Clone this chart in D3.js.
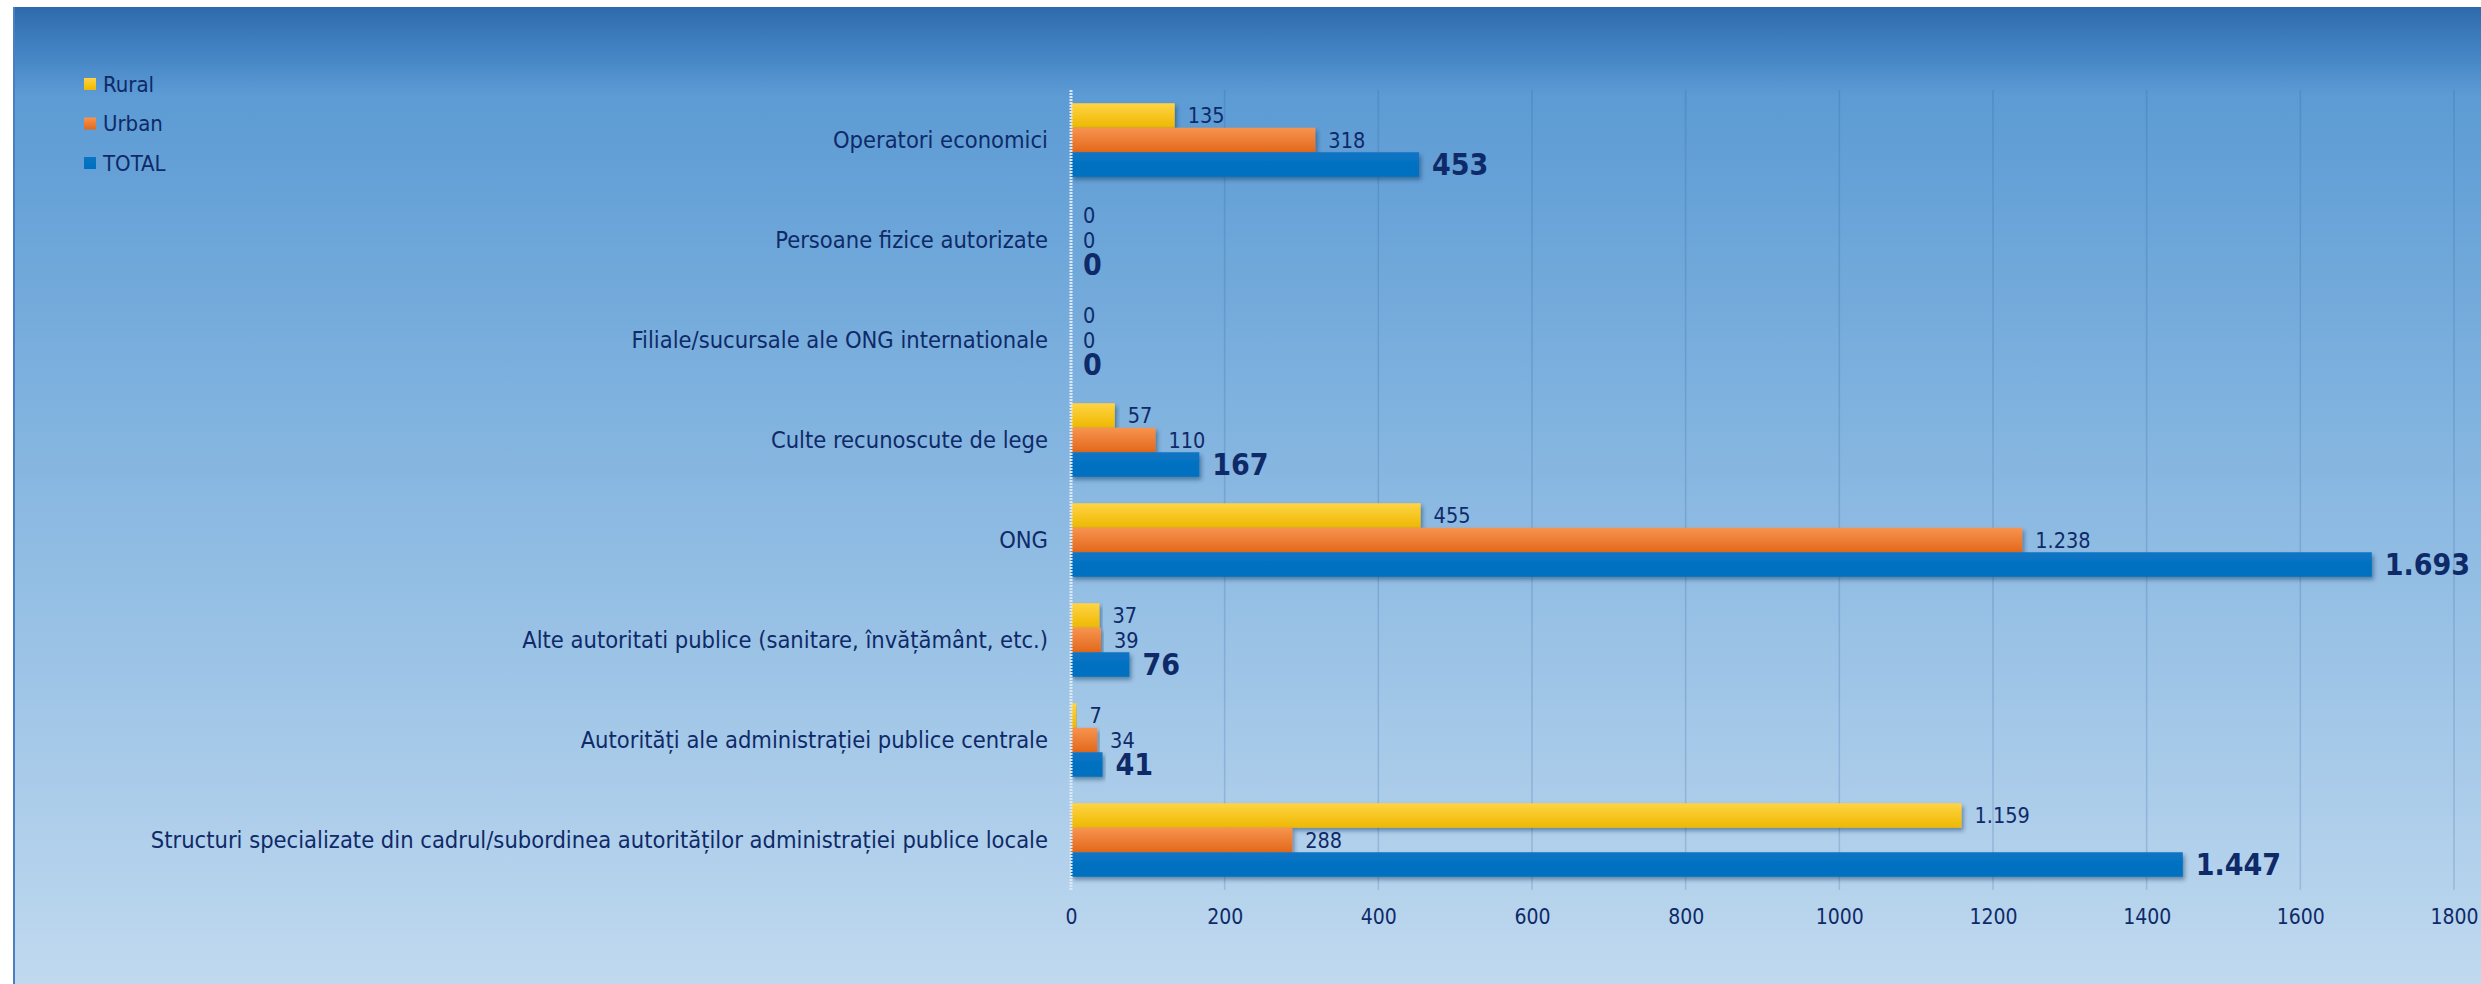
<!DOCTYPE html>
<html>
<head>
<meta charset="utf-8">
<script src="https://cdn.jsdelivr.net/npm/d3@7"></script>
<style>
    body { margin: 0; background: #ffffff; }
    text { font-family: 'DejaVu Sans Condensed', 'DejaVu Sans', sans-serif; fill: #0f2a68; }
</style>
</head>
<body>
<svg id="chart"></svg>
<script>
// chart data
let categories = [
    "Operatori economici",
    "Persoane fizice autorizate",
    "Filiale/sucursale ale ONG internationale",
    "Culte recunoscute de lege",
    "ONG",
    "Alte autoritati publice (sanitare, învățământ, etc.)",
    "Autorități ale administrației publice centrale",
    "Structuri specializate din cadrul/subordinea autorităților administrației publice locale"
];
let series = ["Rural", "Urban", "TOTAL"];
let rural = [135, 0, 0, 57, 455, 37, 7, 1159];
let urban = [318, 0, 0, 110, 1238, 39, 34, 288];
let total = [453, 0, 0, 167, 1693, 76, 41, 1447];
let xTicks = [0, 200, 400, 600, 800, 1000, 1200, 1400, 1600, 1800];

function drawChart(width, height) {
    let svg = d3.select("#chart")
                .attr("width", width)
                .attr("height", height);

    let defs = svg.append("defs");

    // background gradient of the panel
    let bg = defs.append("linearGradient")
                .attr("id", "bg")
                .attr("x1", 0).attr("y1", 0)
                .attr("x2", 0).attr("y2", 1);
    [[0, "#2d6aad"], [0.05, "#4585c5"], [0.09, "#5c9bd4"], [0.45, "#84b5e0"], [1, "#c0d9ef"]]
        .forEach(s => bg.append("stop").attr("offset", s[0]).attr("stop-color", s[1]));

    // bar gradients
    let barColors = {
        Rural: ["#ffd445", "#eeb800"],
        Urban: ["#f7944f", "#e2681b"],
        TOTAL: ["#0a74c4", "#006fbf"]
    };
    series.forEach(s => {
        let g = defs.append("linearGradient")
                    .attr("id", "grad-" + s)
                    .attr("x1", 0).attr("y1", 0)
                    .attr("x2", 0).attr("y2", 1);
        g.append("stop").attr("offset", 0).attr("stop-color", barColors[s][0]);
        g.append("stop").attr("offset", 1).attr("stop-color", barColors[s][1]);
    });

    defs.append("filter")
            .attr("id", "shadow")
            .attr("x", "-5%").attr("y", "-30%")
            .attr("width", "115%").attr("height", "190%")
        .append("feDropShadow")
            .attr("dx", 2)
            .attr("dy", 3)
            .attr("stdDeviation", 2)
            .attr("flood-color", "#0b2a55")
            .attr("flood-opacity", 0.45);

    // panel
    svg.append("rect")
        .attr("x", 13)
        .attr("y", 7)
        .attr("width", width - 13)
        .attr("height", height - 7)
        .attr("fill", "url(#bg)");

    svg.append("line")
        .attr("x1", 14).attr("x2", 14)
        .attr("y1", 7).attr("y2", height)
        .attr("stroke", "#4a80c2")
        .attr("stroke-width", 2);

    let fmt = d3.formatLocale({decimal: ",", thousands: ".", grouping: [3], currency: ["", ""]})
                .format(",d");

    // scales
    let xScale = d3.scaleLinear()
                    .domain([0, 1800])
                    .range([1071, 2454]);

    let yScale = d3.scaleBand()
                    .domain(categories)
                    .range([90, 890]);

    let ySub = d3.scaleBand()
                    .domain(series)
                    .range([0, yScale.bandwidth()])
                    .paddingOuter(0.54);

    // gridlines
    svg.append("g")
        .selectAll("line")
        .data(xTicks.slice(1))
        .enter()
        .append("line")
            .attr("x1", d => xScale(d))
            .attr("x2", d => xScale(d))
            .attr("y1", 90)
            .attr("y2", 890)
            .attr("stroke", "#2d5f9a")
            .attr("stroke-opacity", 0.22)
            .attr("stroke-width", 1.5);

    // x axis
    let xAxis = d3.axisBottom(xScale)
                    .tickValues(xTicks)
                    .tickSize(0)
                    .tickPadding(19)
                    .tickFormat(d3.format("d"));

    svg.append("g")
        .attr("transform", "translate(0,890)")
        .call(xAxis)
        .call(g => g.select(".domain").remove())
        .selectAll("text")
            .attr("font-size", 21)
            .attr("fill", "#0f2a68");

    // category labels
    svg.append("g")
        .selectAll("text")
        .data(categories)
        .enter()
        .append("text")
            .attr("x", 1048)
            .attr("y", d => yScale(d) + yScale.bandwidth() / 2)
            .attr("dy", "0.35em")
            .attr("text-anchor", "end")
            .attr("font-size", 23.5)
            .text(d => d);

    // rows of values per series
    let rows = categories.map((c, i) => ({
        category: c,
        values: [
            {key: "Rural", value: rural[i]},
            {key: "Urban", value: urban[i]},
            {key: "TOTAL", value: total[i]}
        ]
    }));

    let groups = svg.append("g")
                    .selectAll("g")
                    .data(rows)
                    .enter()
                    .append("g")
                        .attr("transform", d => `translate(0,${yScale(d.category)})`);

    groups.selectAll("rect")
        .data(d => d.values.filter(v => v.value > 0))
        .enter()
        .append("rect")
            .attr("x", xScale(0))
            .attr("y", d => ySub(d.key))
            .attr("width", d => xScale(d.value) - xScale(0))
            .attr("height", ySub.bandwidth())
            .attr("fill", d => `url(#grad-${d.key})`)
            .attr("filter", "url(#shadow)");

    groups.selectAll("text")
        .data(d => d.values)
        .enter()
        .append("text")
            .attr("x", d => xScale(d.value) + (d.value > 0 ? 13 : 12))
            .attr("y", d => ySub(d.key) + ySub.bandwidth() / 2)
            .attr("dy", "0.36em")
            .attr("font-size", d => d.key === "TOTAL" ? 30 : 21.5)
            .attr("font-weight", d => d.key === "TOTAL" ? "bold" : "normal")
            .text(d => fmt(d.value));

    // zero axis line
    svg.append("line")
        .attr("x1", xScale(0)).attr("x2", xScale(0))
        .attr("y1", 90).attr("y2", 890)
        .attr("stroke", "#dbe8f6")
        .attr("stroke-width", 3)
        .attr("stroke-dasharray", "2,1");

    // legend
    let legend = svg.append("g")
                    .selectAll("g")
                    .data(series)
                    .enter()
                    .append("g")
                        .attr("transform", (d, i) => `translate(84,${84 + i * 39.5})`);

    legend.append("rect")
        .attr("x", 0)
        .attr("y", -6)
        .attr("width", 12)
        .attr("height", 12)
        .attr("fill", d => `url(#grad-${d})`);

    legend.append("text")
        .attr("x", 19)
        .attr("dy", "0.36em")
        .attr("font-size", 22)
        .text(d => d);
}

drawChart(2481, 984);
</script>
</body>
</html>
